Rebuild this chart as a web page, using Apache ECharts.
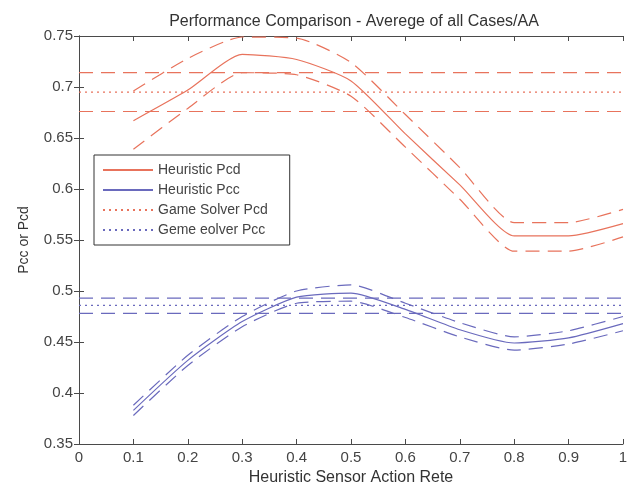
<!DOCTYPE html>
<html>
<head>
<meta charset="utf-8">
<script src="https://cdn.jsdelivr.net/npm/echarts@6/dist/echarts.min.js"></script>
<style>html,body{margin:0;padding:0;background:#fff}#c{width:632px;height:491px}</style>
</head>
<body>
<div id="c"></div>
<script>
const rates = [0.1, 0.2, 0.3, 0.4, 0.5, 0.6, 0.7, 0.8, 0.9, 1.0];
const heurPcd      = [0.667, 0.697, 0.732, 0.727, 0.706, 0.654, 0.604, 0.554, 0.554, 0.566];
const heurPcdUpper = [0.696, 0.728, 0.749, 0.748, 0.724, 0.673, 0.621, 0.567, 0.567, 0.580];
const heurPcdLower = [0.639, 0.679, 0.714, 0.712, 0.691, 0.641, 0.590, 0.539, 0.539, 0.553];
const heurPcc      = [0.383, 0.432, 0.470, 0.494, 0.498, 0.482, 0.462, 0.449, 0.454, 0.468];
const heurPccUpper = [0.388, 0.437, 0.475, 0.500, 0.506, 0.488, 0.469, 0.455, 0.461, 0.475];
const heurPccLower = [0.378, 0.427, 0.465, 0.488, 0.490, 0.474, 0.455, 0.442, 0.448, 0.461];
const gsRange = [0, 1];
const gsPcd = 0.695, gsPcdUpper = 0.714, gsPcdLower = 0.676;
const gsPcc = 0.486, gsPccUpper = 0.493, gsPccLower = 0.478;
const legendNames = ['Heuristic Pcd', 'Heuristic Pcc', 'Game Solver Pcd', 'Geme eolver Pcc'];

const RED = '#e8735c', BLUE = '#6a6abd';
const DASH = [14, 8], DOT = [2, 4];
const FONT = 'Liberation Sans, Arial, sans-serif';

function curve(name, xs, ys, color, type, smooth) {
  return {
    name, type: 'line', xAxisIndex: 0, yAxisIndex: 0,
    data: xs.map((x, i) => [x, ys[i]]),
    symbol: 'none', showSymbol: false, silent: true, animation: false,
    smooth: smooth || false,
    lineStyle: { color, type, width: 1.2 },
    itemStyle: { color }
  };
}
function flat(name, v, color, type) {
  return curve(name, gsRange, gsRange.map(() => v), color, type, false);
}

const S = 0.2;
const series = [
  curve(legendNames[0], rates, heurPcd, RED, 'solid', S),
  curve(legendNames[1], rates, heurPcc, BLUE, 'solid', S),
  flat(legendNames[2], gsPcd, RED, DOT),
  flat(legendNames[3], gsPcc, BLUE, DOT),
  curve('Heuristic Pcd upper', rates, heurPcdUpper, RED, DASH, S),
  curve('Heuristic Pcd lower', rates, heurPcdLower, RED, DASH, S),
  curve('Heuristic Pcc upper', rates, heurPccUpper, BLUE, DASH, S),
  curve('Heuristic Pcc lower', rates, heurPccLower, BLUE, DASH, S),
  flat('Game Solver Pcd upper', gsPcdUpper, RED, DASH),
  flat('Game Solver Pcd lower', gsPcdLower, RED, DASH),
  flat('Game Solver Pcc upper', gsPccUpper, BLUE, DASH),
  flat('Game Solver Pcc lower', gsPccLower, BLUE, DASH)
];

const axisLine = { show: true, lineStyle: { color: '#4a4a4a', width: 1 } };
const tick = { show: true, inside: true, length: 5, lineStyle: { color: '#4a4a4a' } };
const labelStyle = { color: '#444', fontSize: 15, fontFamily: FONT };

const chart = echarts.init(document.getElementById('c'), null, { renderer: 'canvas' });
chart.setOption({
  animation: false,
  backgroundColor: '#fff',
  title: {
    text: 'Performance Comparison - Averege of all Cases/AA',
    left: 349, top: 9, textAlign: 'center',
    textStyle: { fontSize: 16, fontWeight: 'normal', color: '#333', fontFamily: FONT }
  },
  grid: { left: 79, right: 9, top: 36, bottom: 44, containLabel: false },
  legend: {
    data: legendNames,
    orient: 'vertical', left: 94, top: 155,
    itemWidth: 50, itemHeight: 14, itemGap: 6,
    padding: [8, 22, 8, 8],
    itemStyle: { opacity: 0, borderWidth: 0 },
    borderColor: '#333', borderWidth: 1, backgroundColor: '#fff',
    textStyle: { fontSize: 14, color: '#444', fontFamily: FONT },
    selectedMode: false
  },
  xAxis: [{
    type: 'value', min: 0, max: 1, interval: 0.1, position: 'bottom',
    name: 'Heuristic Sensor Action Rete', nameLocation: 'middle', nameGap: 26,
    nameTextStyle: { fontSize: 16, color: '#333', fontFamily: FONT },
    axisLine, axisTick: tick, splitLine: { show: false },
    axisLabel: Object.assign({ margin: 6, formatter: v => String(+v.toFixed(1)) }, labelStyle)
  }, {
    type: 'value', min: 0, max: 1, interval: 0.1, position: 'top',
    axisLine, axisTick: tick, axisLabel: { show: false }, splitLine: { show: false }
  }],
  yAxis: [{
    type: 'value', min: 0.35, max: 0.75, interval: 0.05, position: 'left',
    name: 'Pcc or Pcd', nameLocation: 'middle', nameGap: 48,
    nameTextStyle: { fontSize: 14, color: '#333', fontFamily: FONT },
    axisLine, axisTick: tick, splitLine: { show: false },
    axisLabel: Object.assign({ margin: 6, formatter: v => String(+v.toFixed(2)) }, labelStyle)
  }, {
    type: 'value', min: 0.35, max: 0.75, interval: 0.05, position: 'right',
    axisLine, axisTick: tick, axisLabel: { show: false }, splitLine: { show: false }
  }],
  series
});
</script>
</body>
</html>
